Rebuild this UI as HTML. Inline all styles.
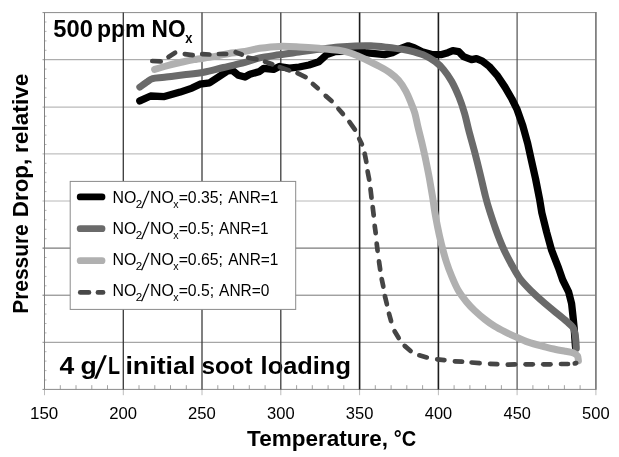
<!DOCTYPE html>
<html><head><meta charset="utf-8"><title>Pressure Drop vs Temperature</title>
<style>html,body{margin:0;padding:0;background:#fff}svg{display:block}text{font-family:"Liberation Sans",sans-serif;fill:#000}.b{font-weight:bold}</style></head><body>
<svg width="619" height="457" viewBox="0 0 619 457">
<rect width="619" height="457" fill="#fff"/>
<g stroke-width="1" fill="none">
<line x1="42.5" y1="12.6" x2="595.9" y2="12.6" stroke="#8a8a8a"/>
<line x1="42.5" y1="59.7" x2="595.9" y2="59.7" stroke="#9a9a9a"/>
<line x1="42.5" y1="107.1" x2="595.9" y2="107.1" stroke="#a8a8a8"/>
<line x1="42.5" y1="153.9" x2="595.9" y2="153.9" stroke="#b0b0b0"/>
<line x1="42.5" y1="201.0" x2="595.9" y2="201.0" stroke="#b8b8b8"/>
<line x1="42.5" y1="248.1" x2="595.9" y2="248.1" stroke="#5a5a5a"/>
<line x1="42.5" y1="295.2" x2="595.9" y2="295.2" stroke="#787878"/>
<line x1="42.5" y1="342.3" x2="595.9" y2="342.3" stroke="#909090"/>
<line x1="42.5" y1="389.4" x2="595.9" y2="389.4" stroke="#8a8a8a"/>
</g>
<g stroke="#a0a0a0" stroke-width="0.8">
<line x1="44.5" y1="22.0" x2="46.5" y2="22.0"/>
<line x1="44.5" y1="31.4" x2="46.5" y2="31.4"/>
<line x1="44.5" y1="40.9" x2="46.5" y2="40.9"/>
<line x1="44.5" y1="50.3" x2="46.5" y2="50.3"/>
<line x1="44.5" y1="69.1" x2="46.5" y2="69.1"/>
<line x1="44.5" y1="78.5" x2="46.5" y2="78.5"/>
<line x1="44.5" y1="88.0" x2="46.5" y2="88.0"/>
<line x1="44.5" y1="97.4" x2="46.5" y2="97.4"/>
<line x1="44.5" y1="116.2" x2="46.5" y2="116.2"/>
<line x1="44.5" y1="125.6" x2="46.5" y2="125.6"/>
<line x1="44.5" y1="135.1" x2="46.5" y2="135.1"/>
<line x1="44.5" y1="144.5" x2="46.5" y2="144.5"/>
<line x1="44.5" y1="163.3" x2="46.5" y2="163.3"/>
<line x1="44.5" y1="172.7" x2="46.5" y2="172.7"/>
<line x1="44.5" y1="182.2" x2="46.5" y2="182.2"/>
<line x1="44.5" y1="191.6" x2="46.5" y2="191.6"/>
<line x1="44.5" y1="210.4" x2="46.5" y2="210.4"/>
<line x1="44.5" y1="219.8" x2="46.5" y2="219.8"/>
<line x1="44.5" y1="229.3" x2="46.5" y2="229.3"/>
<line x1="44.5" y1="238.7" x2="46.5" y2="238.7"/>
<line x1="44.5" y1="257.5" x2="46.5" y2="257.5"/>
<line x1="44.5" y1="266.9" x2="46.5" y2="266.9"/>
<line x1="44.5" y1="276.4" x2="46.5" y2="276.4"/>
<line x1="44.5" y1="285.8" x2="46.5" y2="285.8"/>
<line x1="44.5" y1="304.6" x2="46.5" y2="304.6"/>
<line x1="44.5" y1="314.0" x2="46.5" y2="314.0"/>
<line x1="44.5" y1="323.5" x2="46.5" y2="323.5"/>
<line x1="44.5" y1="332.9" x2="46.5" y2="332.9"/>
<line x1="44.5" y1="351.7" x2="46.5" y2="351.7"/>
<line x1="44.5" y1="361.1" x2="46.5" y2="361.1"/>
<line x1="44.5" y1="370.6" x2="46.5" y2="370.6"/>
<line x1="44.5" y1="380.0" x2="46.5" y2="380.0"/>
</g>
<g stroke="#8a8a8a" stroke-width="0.8">
<line x1="60.3" y1="389.4" x2="60.3" y2="385.2"/>
<line x1="76.0" y1="389.4" x2="76.0" y2="385.2"/>
<line x1="91.8" y1="389.4" x2="91.8" y2="385.2"/>
<line x1="107.5" y1="389.4" x2="107.5" y2="385.2"/>
<line x1="139.0" y1="389.4" x2="139.0" y2="385.2"/>
<line x1="154.8" y1="389.4" x2="154.8" y2="385.2"/>
<line x1="170.5" y1="389.4" x2="170.5" y2="385.2"/>
<line x1="186.3" y1="389.4" x2="186.3" y2="385.2"/>
<line x1="217.8" y1="389.4" x2="217.8" y2="385.2"/>
<line x1="233.6" y1="389.4" x2="233.6" y2="385.2"/>
<line x1="249.3" y1="389.4" x2="249.3" y2="385.2"/>
<line x1="265.1" y1="389.4" x2="265.1" y2="385.2"/>
<line x1="296.6" y1="389.4" x2="296.6" y2="385.2"/>
<line x1="312.3" y1="389.4" x2="312.3" y2="385.2"/>
<line x1="328.1" y1="389.4" x2="328.1" y2="385.2"/>
<line x1="343.8" y1="389.4" x2="343.8" y2="385.2"/>
<line x1="375.3" y1="389.4" x2="375.3" y2="385.2"/>
<line x1="391.1" y1="389.4" x2="391.1" y2="385.2"/>
<line x1="406.8" y1="389.4" x2="406.8" y2="385.2"/>
<line x1="422.6" y1="389.4" x2="422.6" y2="385.2"/>
<line x1="454.1" y1="389.4" x2="454.1" y2="385.2"/>
<line x1="469.9" y1="389.4" x2="469.9" y2="385.2"/>
<line x1="485.6" y1="389.4" x2="485.6" y2="385.2"/>
<line x1="501.4" y1="389.4" x2="501.4" y2="385.2"/>
<line x1="532.9" y1="389.4" x2="532.9" y2="385.2"/>
<line x1="548.6" y1="389.4" x2="548.6" y2="385.2"/>
<line x1="564.4" y1="389.4" x2="564.4" y2="385.2"/>
<line x1="580.1" y1="389.4" x2="580.1" y2="385.2"/>
</g>
<g stroke="#aaa" stroke-width="0.8">
<line x1="44.5" y1="389.4" x2="44.5" y2="395.2"/>
<line x1="123.3" y1="389.4" x2="123.3" y2="395.2"/>
<line x1="202.0" y1="389.4" x2="202.0" y2="395.2"/>
<line x1="280.8" y1="389.4" x2="280.8" y2="395.2"/>
<line x1="359.6" y1="389.4" x2="359.6" y2="395.2"/>
<line x1="438.4" y1="389.4" x2="438.4" y2="395.2"/>
<line x1="517.1" y1="389.4" x2="517.1" y2="395.2"/>
<line x1="595.9" y1="389.4" x2="595.9" y2="395.2"/>
</g>
<line x1="44.5" y1="12.6" x2="44.5" y2="389.4" stroke="#7a7a7a" stroke-width="0.95"/>
<text class="b" x="53.27" y="36.50" font-size="24.5" textLength="39.60" lengthAdjust="spacingAndGlyphs">500</text>
<text class="b" x="96.88" y="36.50" font-size="24.5" textLength="48.75" lengthAdjust="spacingAndGlyphs">ppm</text>
<text class="b" x="151.59" y="36.50" font-size="24.5" textLength="33.97" lengthAdjust="spacingAndGlyphs">NO</text>
<text class="b" x="185.31" y="43.10" font-size="15.3" textLength="7.18" lengthAdjust="spacingAndGlyphs">x</text>
<text class="b" x="59.60" y="374.30" font-size="24.5" textLength="14.74" lengthAdjust="spacingAndGlyphs">4</text>
<text class="b" x="80.41" y="374.30" font-size="24.5" textLength="16.28" lengthAdjust="spacingAndGlyphs">g</text>
<text class="b" transform="translate(94.10 378.10) skewX(-15.6) scale(1 1.277)" font-size="24.5">/</text>
<text class="b" x="108.08" y="374.30" font-size="24.5" textLength="12.02" lengthAdjust="spacingAndGlyphs">L</text>
<text class="b" x="125.43" y="374.30" font-size="24.5" textLength="69.97" lengthAdjust="spacingAndGlyphs">initial</text>
<text class="b" x="201.45" y="374.30" font-size="24.5" textLength="51.25" lengthAdjust="spacingAndGlyphs">soot</text>
<text class="b" x="260.63" y="374.30" font-size="24.5" textLength="90.27" lengthAdjust="spacingAndGlyphs">loading</text>
<line x1="123.3" y1="12.6" x2="123.3" y2="389.4" stroke="#383838" stroke-width="1.3"/>
<line x1="202.0" y1="12.6" x2="202.0" y2="389.4" stroke="#3c3c3c" stroke-width="1.3"/>
<line x1="280.8" y1="12.6" x2="280.8" y2="389.4" stroke="#3c3c3c" stroke-width="1.3"/>
<line x1="359.6" y1="12.6" x2="359.6" y2="389.4" stroke="#1c1c1c" stroke-width="1.6"/>
<line x1="438.4" y1="12.6" x2="438.4" y2="389.4" stroke="#1c1c1c" stroke-width="1.6"/>
<line x1="517.1" y1="12.6" x2="517.1" y2="389.4" stroke="#505050" stroke-width="1.2"/>
<line x1="595.9" y1="12.1" x2="595.9" y2="389.8" stroke="#7a7a7a" stroke-width="1.7"/>
<g fill="none" stroke-linecap="round" stroke-linejoin="round">
<path d="M139.8 100.9 L150.6 96.0 L164.4 96.6 L180.2 92.1 L192.0 88.1 L199.9 84.2 L209.7 82.8 L219.6 76.3 L227.5 71.0 L232.4 70.4 L238.3 75.3 L245.0 77.0 L249.9 74.3 L259.7 71.4 L263.6 68.4 L273.5 69.4 L279.4 66.5 L289.3 68.2 L299.1 67.0 L309.0 65.0 L318.8 61.8 L326.7 54.6 L334.6 51.7 L342.5 51.3 L352.3 48.9 L358.0 49.5 L364.9 52.7 L374.7 53.6 L384.6 54.6 L392.4 52.7 L400.3 48.7 L408.2 45.8 L414.1 47.7 L422.0 51.7 L431.8 54.6 L441.7 54.6 L447.9 52.7 L452.8 50.7 L458.7 51.7 L463.6 56.6 L471.5 59.6 L476.5 58.6 L482.4 61.1 L489.3 66.5 L497.1 75.3 L505.0 87.1 L511.9 99.0 L516.8 108.8 L522.8 125.8 L527.7 143.5 L531.6 161.2 L535.6 179.0 L539.5 198.7 L541.8 212.7 L546.7 232.4 L551.6 250.2 L558.5 267.9 L562.7 280.0 L568.6 291.8 L571.6 303.6 L572.9 315.5 L574.1 327.3 L574.9 339.1 L575.5 347.0" stroke="#000" stroke-width="7.3"/>
<path d="M139.8 87.1 C141.0 86.3 144.6 83.6 146.7 82.2 C148.8 80.8 149.6 79.4 152.6 78.6 C155.6 77.8 159.2 77.9 164.4 77.3 C169.7 76.7 177.5 75.6 184.1 74.8 C190.7 74.0 197.2 73.4 203.8 72.2 C210.4 71.0 216.6 69.1 223.5 67.5 C230.4 65.9 239.0 64.0 245.0 62.4 C251.0 60.8 254.0 59.2 259.7 57.9 C265.4 56.6 272.8 55.8 279.4 54.8 C286.0 53.8 292.5 53.0 299.1 52.1 C305.7 51.2 312.2 50.2 318.8 49.4 C325.4 48.6 332.5 47.7 338.5 47.1 C344.5 46.5 349.6 46.1 355.0 45.9 C360.4 45.7 365.6 45.6 370.8 45.8 C376.1 46.0 381.2 46.6 386.5 47.2 C391.8 47.8 397.7 48.5 402.3 49.3 C406.9 50.1 410.3 50.8 414.1 51.9 C417.9 53.0 421.5 54.0 425.0 55.6 C428.5 57.2 432.2 59.3 435.3 61.6 C438.4 63.9 440.9 66.3 443.6 69.6 C446.3 72.9 449.0 76.6 451.6 81.2 C454.2 85.8 456.8 91.6 459.0 97.0 C461.2 102.4 463.0 108.0 464.6 113.5 C466.2 119.0 467.0 123.4 468.6 129.7 C470.2 136.0 472.5 143.8 474.5 151.4 C476.5 159.0 478.6 167.5 480.4 175.0 C482.2 182.5 484.0 190.5 485.5 196.5 C487.0 202.5 487.9 205.5 489.6 210.8 C491.3 216.1 493.4 222.6 495.5 228.5 C497.6 234.4 499.9 240.6 502.4 246.2 C504.8 251.8 507.3 256.7 510.2 262.0 C513.0 267.3 515.9 273.0 519.5 278.0 C523.1 283.0 528.0 287.7 532.1 291.8 C536.2 295.9 540.0 299.2 544.0 302.7 C548.0 306.1 552.0 309.4 555.8 312.5 C559.6 315.6 563.8 318.9 566.6 321.4 C569.4 323.9 571.4 325.3 572.8 327.3 C574.2 329.3 574.4 330.9 574.9 333.2 C575.4 335.5 575.7 338.5 575.9 341.1 C576.1 343.7 576.2 347.4 576.3 348.6" stroke="#6a6a6a" stroke-width="7"/>
<path d="M154.6 69.4 C156.2 68.9 160.1 67.7 164.4 66.5 C168.7 65.3 175.3 63.6 180.2 62.5 C185.1 61.4 188.4 60.6 194.0 59.6 C199.6 58.6 207.5 57.7 213.7 56.6 C219.9 55.5 226.2 53.9 231.4 53.0 C236.6 52.1 240.3 52.2 245.0 51.4 C249.7 50.6 254.0 49.1 259.7 48.3 C265.4 47.5 272.8 46.6 279.4 46.4 C286.0 46.2 292.5 46.6 299.1 46.9 C305.7 47.2 312.2 47.7 318.8 48.3 C325.4 48.9 333.2 49.5 338.5 50.3 C343.8 51.1 347.1 52.0 350.3 53.0 C353.6 54.0 355.2 54.8 358.0 56.0 C360.8 57.2 363.4 58.3 366.8 60.0 C370.2 61.7 374.8 63.9 378.6 66.0 C382.4 68.1 386.2 70.0 389.5 72.4 C392.8 74.8 395.9 77.2 398.6 80.3 C401.3 83.4 403.7 87.3 405.8 91.1 C407.9 94.9 409.5 99.2 411.0 102.9 C412.5 106.6 413.7 109.2 414.8 113.0 C415.9 116.8 416.6 121.0 417.7 125.8 C418.8 130.6 420.3 135.9 421.6 141.5 C422.9 147.1 424.3 153.1 425.6 159.3 C426.9 165.6 428.4 172.8 429.5 179.0 C430.6 185.2 431.6 191.2 432.5 196.5 C433.4 201.8 433.8 205.8 434.6 210.8 C435.4 215.8 436.4 220.9 437.5 226.5 C438.6 232.1 440.0 238.4 441.5 244.3 C443.0 250.2 444.6 256.6 446.4 262.0 C448.1 267.4 450.0 272.2 452.0 277.0 C454.0 281.8 456.1 286.7 458.5 290.8 C460.9 294.9 463.7 298.4 466.4 301.7 C469.1 305.0 471.5 307.6 474.6 310.5 C477.7 313.4 481.5 316.8 484.9 319.4 C488.2 322.0 491.4 324.3 494.7 326.3 C498.0 328.3 501.0 329.8 504.6 331.6 C508.2 333.4 512.5 335.4 516.4 337.1 C520.3 338.9 523.9 340.6 528.2 342.1 C532.5 343.6 537.7 344.9 542.0 346.0 C546.3 347.1 549.9 348.1 553.8 349.0 C557.7 349.9 562.3 350.7 565.6 351.3 C568.9 351.9 571.5 352.1 573.5 352.9 C575.5 353.7 576.7 354.6 577.5 355.9 C578.3 357.2 578.2 360.0 578.4 360.8" stroke="#b0b0b0" stroke-width="7"/>
<g stroke="#454545" stroke-width="4.7">
<line x1="152.3" y1="61.0" x2="160.7" y2="61.3"/>
<line x1="168.5" y1="56.9" x2="175.1" y2="52.8"/>
<line x1="184.8" y1="54.1" x2="192.7" y2="55.1"/>
<line x1="202.2" y1="54.1" x2="209.4" y2="54.5"/>
<line x1="218.9" y1="54.0" x2="226.2" y2="54.0"/>
<line x1="235.6" y1="52.2" x2="241.8" y2="54.5"/>
<line x1="248.3" y1="57.7" x2="256.4" y2="59.2"/>
<line x1="265.0" y1="61.7" x2="272.3" y2="64.3"/>
<line x1="279.8" y1="67.1" x2="289.1" y2="70.4"/>
<line x1="297.5" y1="73.2" x2="305.6" y2="77.1"/>
<line x1="312.9" y1="84.0" x2="317.8" y2="88.3"/>
<line x1="325.7" y1="95.9" x2="331.6" y2="101.0"/>
<line x1="338.4" y1="108.8" x2="342.9" y2="113.9"/>
<line x1="349.4" y1="121.9" x2="354.9" y2="129.6"/>
<line x1="359.2" y1="138.8" x2="361.9" y2="144.3"/>
<line x1="364.7" y1="153.7" x2="366.3" y2="161.9"/>
<line x1="367.6" y1="171.4" x2="369.2" y2="179.6"/>
<line x1="370.5" y1="189.1" x2="371.5" y2="197.7"/>
<line x1="372.7" y1="207.1" x2="373.7" y2="215.4"/>
<line x1="374.7" y1="225.9" x2="375.7" y2="233.1"/>
<line x1="376.7" y1="243.6" x2="377.6" y2="250.8"/>
<line x1="379.0" y1="261.3" x2="380.2" y2="269.6"/>
<line x1="381.7" y1="279.1" x2="383.3" y2="286.6"/>
<line x1="384.9" y1="296.1" x2="386.9" y2="304.3"/>
<line x1="389.0" y1="313.7" x2="391.1" y2="321.2"/>
<line x1="394.6" y1="331.3" x2="398.7" y2="338.0"/>
<line x1="404.7" y1="345.9" x2="410.6" y2="351.0"/>
<line x1="419.3" y1="355.3" x2="426.8" y2="357.4"/>
<line x1="437.2" y1="359.3" x2="444.4" y2="360.1"/>
<line x1="454.9" y1="361.3" x2="462.1" y2="361.7"/>
<line x1="471.6" y1="362.5" x2="479.6" y2="363.1"/>
<line x1="490.1" y1="363.8" x2="497.3" y2="364.2"/>
<line x1="507.8" y1="364.6" x2="515.1" y2="364.4"/>
<line x1="525.6" y1="364.3" x2="532.8" y2="364.3"/>
<line x1="543.3" y1="364.3" x2="550.5" y2="364.3"/>
<line x1="561.0" y1="364.0" x2="568.0" y2="364.0"/>
<line x1="574.8" y1="363.4" x2="576.2" y2="363.1"/>
</g></g>
<rect x="70.2" y="181.4" width="225.5" height="128" fill="#fff" stroke="#8a8a8a" stroke-width="1"/>
<line x1="80.2" y1="196.9" x2="102" y2="196.9" stroke="#000" stroke-width="6.8" stroke-linecap="round"/>
<text x="112.49" y="203.40" font-size="16.9" textLength="23.87" lengthAdjust="spacingAndGlyphs">NO</text>
<text x="135.81" y="208.10" font-size="10.3" textLength="6.47" lengthAdjust="spacingAndGlyphs">2</text>
<text transform="translate(141.00 207.80) skewX(-12.7) scale(1 1.410)" font-size="16.9">/</text>
<text x="149.99" y="203.40" font-size="16.9" textLength="23.87" lengthAdjust="spacingAndGlyphs">NO</text>
<text x="173.28" y="208.10" font-size="10.3" textLength="5.33" lengthAdjust="spacingAndGlyphs">x</text>
<text x="178.63" y="203.40" font-size="16.9" textLength="44.39" lengthAdjust="spacingAndGlyphs">=0.35;</text>
<text x="228.27" y="203.40" font-size="16.9" textLength="50.18" lengthAdjust="spacingAndGlyphs">ANR=1</text>
<line x1="80.2" y1="228.7" x2="102" y2="228.7" stroke="#6a6a6a" stroke-width="6.8" stroke-linecap="round"/>
<text x="112.49" y="234.30" font-size="16.9" textLength="23.87" lengthAdjust="spacingAndGlyphs">NO</text>
<text x="135.81" y="239.00" font-size="10.3" textLength="6.47" lengthAdjust="spacingAndGlyphs">2</text>
<text transform="translate(141.00 238.70) skewX(-12.7) scale(1 1.410)" font-size="16.9">/</text>
<text x="149.99" y="234.30" font-size="16.9" textLength="23.87" lengthAdjust="spacingAndGlyphs">NO</text>
<text x="173.28" y="239.00" font-size="10.3" textLength="5.33" lengthAdjust="spacingAndGlyphs">x</text>
<text x="178.63" y="234.30" font-size="16.9" textLength="35.49" lengthAdjust="spacingAndGlyphs">=0.5;</text>
<text x="219.07" y="234.30" font-size="16.9" textLength="49.47" lengthAdjust="spacingAndGlyphs">ANR=1</text>
<line x1="80.2" y1="260.7" x2="102" y2="260.7" stroke="#b0b0b0" stroke-width="6.8" stroke-linecap="round"/>
<text x="112.49" y="265.20" font-size="16.9" textLength="23.87" lengthAdjust="spacingAndGlyphs">NO</text>
<text x="135.81" y="269.90" font-size="10.3" textLength="6.47" lengthAdjust="spacingAndGlyphs">2</text>
<text transform="translate(141.00 269.60) skewX(-12.7) scale(1 1.410)" font-size="16.9">/</text>
<text x="149.99" y="265.20" font-size="16.9" textLength="23.87" lengthAdjust="spacingAndGlyphs">NO</text>
<text x="173.28" y="269.90" font-size="10.3" textLength="5.33" lengthAdjust="spacingAndGlyphs">x</text>
<text x="178.63" y="265.20" font-size="16.9" textLength="44.39" lengthAdjust="spacingAndGlyphs">=0.65;</text>
<text x="228.27" y="265.20" font-size="16.9" textLength="50.18" lengthAdjust="spacingAndGlyphs">ANR=1</text>
<line x1="80.2" y1="292.4" x2="89" y2="292.4" stroke="#484848" stroke-width="4.6" stroke-linecap="round"/>
<line x1="97.9" y1="292.4" x2="103.1" y2="292.4" stroke="#484848" stroke-width="4.6" stroke-linecap="round"/>
<text x="112.49" y="296.20" font-size="16.9" textLength="23.87" lengthAdjust="spacingAndGlyphs">NO</text>
<text x="135.81" y="300.90" font-size="10.3" textLength="6.47" lengthAdjust="spacingAndGlyphs">2</text>
<text transform="translate(141.00 300.60) skewX(-12.7) scale(1 1.410)" font-size="16.9">/</text>
<text x="149.99" y="296.20" font-size="16.9" textLength="23.87" lengthAdjust="spacingAndGlyphs">NO</text>
<text x="173.28" y="300.90" font-size="10.3" textLength="5.33" lengthAdjust="spacingAndGlyphs">x</text>
<text x="178.63" y="296.20" font-size="16.9" textLength="35.49" lengthAdjust="spacingAndGlyphs">=0.5;</text>
<text x="219.07" y="296.20" font-size="16.9" textLength="50.33" lengthAdjust="spacingAndGlyphs">ANR=0</text>
<text x="30.06" y="418.60" font-size="16.2" textLength="28.25" lengthAdjust="spacingAndGlyphs" fill="#222">150</text>
<text x="109.28" y="418.60" font-size="16.2" textLength="27.79" lengthAdjust="spacingAndGlyphs" fill="#222">200</text>
<text x="188.06" y="418.60" font-size="16.2" textLength="27.79" lengthAdjust="spacingAndGlyphs" fill="#222">250</text>
<text x="267.03" y="418.60" font-size="16.2" textLength="27.58" lengthAdjust="spacingAndGlyphs" fill="#222">300</text>
<text x="345.81" y="418.60" font-size="16.2" textLength="27.58" lengthAdjust="spacingAndGlyphs" fill="#222">350</text>
<text x="424.83" y="418.60" font-size="16.2" textLength="27.32" lengthAdjust="spacingAndGlyphs" fill="#222">400</text>
<text x="503.60" y="418.60" font-size="16.2" textLength="27.32" lengthAdjust="spacingAndGlyphs" fill="#222">450</text>
<text x="582.09" y="418.60" font-size="16.2" textLength="27.61" lengthAdjust="spacingAndGlyphs" fill="#222">500</text>
<text class="b" x="247.05" y="445.50" font-size="22" textLength="140.94" lengthAdjust="spacingAndGlyphs">Temperature,</text>
<text class="b" x="393.72" y="445.50" font-size="22" textLength="22.42" lengthAdjust="spacingAndGlyphs">°C</text>
<g transform="translate(28.2 0) rotate(-90)">
<text class="b" x="-313.70" y="0.00" font-size="22" textLength="89.41" lengthAdjust="spacingAndGlyphs">Pressure</text>
<text class="b" x="-217.30" y="0.00" font-size="22" textLength="58.60" lengthAdjust="spacingAndGlyphs">Drop,</text>
<text class="b" x="-153.10" y="0.00" font-size="22" textLength="79.57" lengthAdjust="spacingAndGlyphs">relative</text>
</g>
</svg></body></html>
